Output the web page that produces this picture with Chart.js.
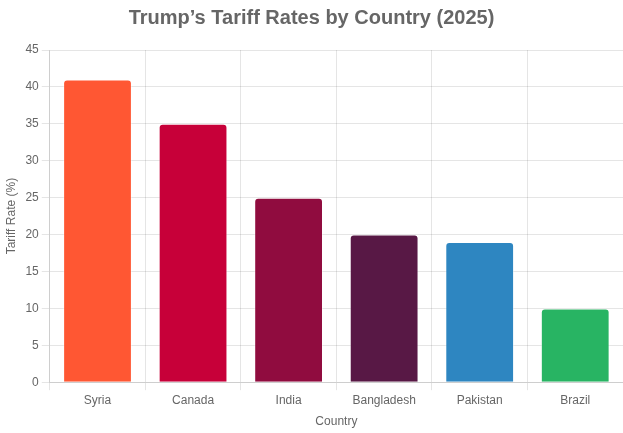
<!DOCTYPE html>
<html>
<head>
<meta charset="utf-8">
<script src="https://cdn.jsdelivr.net/npm/chart.js@4"></script>
<style>
  body { margin: 0; background: #fff; }
  #wrap { width: 623px; height: 433px; }
</style>
</head>
<body>
<div id="wrap"><canvas id="barChart"></canvas></div>
<script>
var countries = ["Syria", "Canada", "India", "Bangladesh", "Pakistan", "Brazil"];
var tariffRates = [41, 35, 25, 20, 19, 10];
var barColors = ["#FF5733", "#C70039", "#900C3F", "#581845", "#2E86C1", "#28B463"];

Chart.defaults.font.family = "Arial, 'Liberation Sans', sans-serif";
Chart.defaults.color = "#666";

var ctx = document.getElementById("barChart").getContext("2d");
var myChart = new Chart(ctx, {
  type: "bar",
  data: {
    labels: countries,
    datasets: [
      {
        label: "Tariff Rate (%)",
        data: tariffRates,
        backgroundColor: barColors,
        borderColor: "rgba(255, 255, 255, 0.4)",
        borderWidth: 1,
        borderRadius: 4,
      },
    ],
  },
  options: {
    responsive: true,
    maintainAspectRatio: false,
    animation: false,
    plugins: {
      legend: { display: false },
      title: {
        display: true,
        text: "Trump\u2019s Tariff Rates by Country (2025)",
        font: { size: 20, weight: "bold" },
        color: "#666",
        padding: { top: 6, bottom: 20 },
      },
    },
    scales: {
      x: {
        title: { display: true, text: "Country", font: { size: 12 } },
        ticks: { font: { size: 12 } },
      },
      y: {
        beginAtZero: true,
        max: 45,
        ticks: { stepSize: 5, font: { size: 12 } },
        title: { display: true, text: "Tariff Rate (%)", font: { size: 12 } },
      },
    },
  },
});
</script>
</body>
</html>
